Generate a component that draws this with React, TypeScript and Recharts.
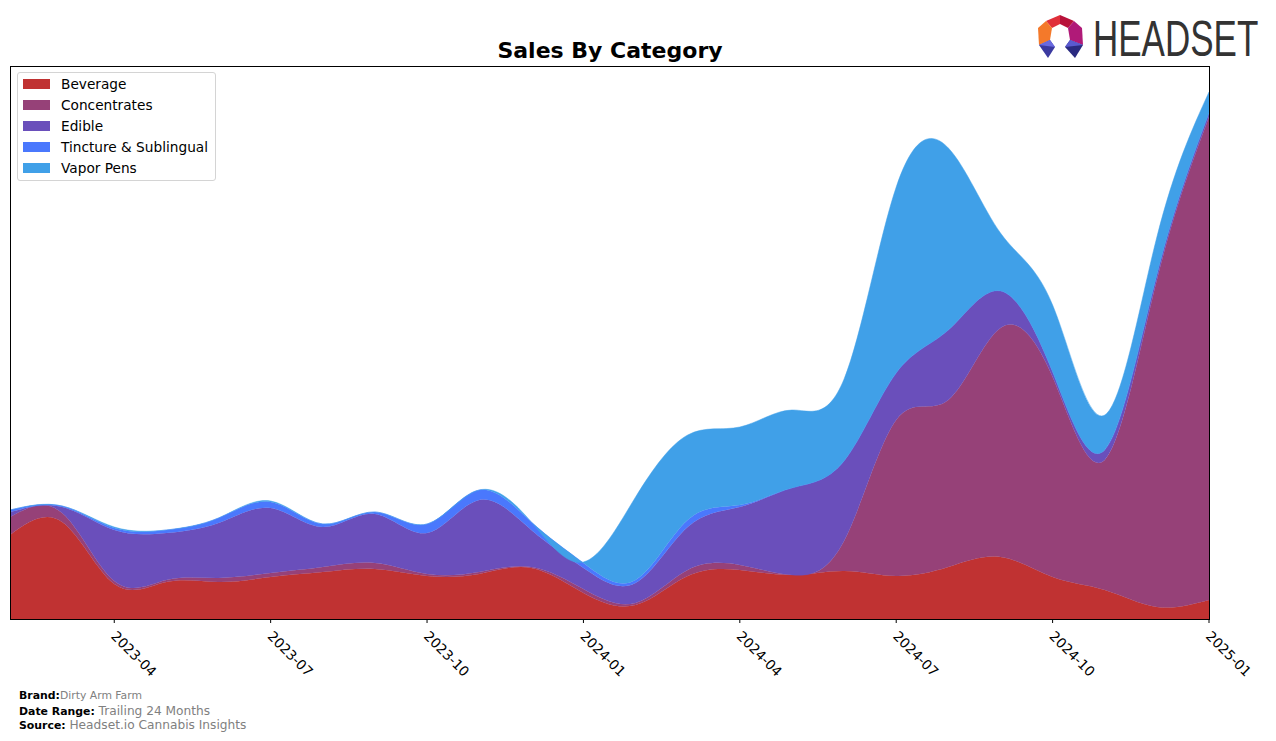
import React from 'react';
import { AreaChart, Area, XAxis, YAxis } from 'recharts';

// monthly sales, in plot-pixel units (no y axis shown in the reference)
const months = [
  '2023-02', '2023-03', '2023-04', '2023-05', '2023-06', '2023-07', '2023-08', '2023-09',
  '2023-10', '2023-11', '2023-12', '2024-01', '2024-02', '2024-03', '2024-04', '2024-05',
  '2024-06', '2024-07', '2024-08', '2024-09', '2024-10', '2024-11', '2024-12', '2025-01',
];
const tickMonths = ['2023-04', '2023-07', '2023-10', '2024-01', '2024-04', '2024-07', '2024-10', '2025-01'];

const beverage = [84, 97, 35, 37, 37, 42, 47, 50, 43, 45, 51, 26, 14, 43, 49, 44, 48, 43, 52, 62, 42, 29, 12, 19];
const concentrates = [18, 9, 3, 2, 4, 4, 5, 6, 2, 2, 1, 4, 2, 6, 5, 0, 30, 156, 167, 229, 200, 130, 327, 483];
const edible = [5, 6, 51, 47, 55, 65, 40, 49, 41, 72, 37, 21, 20, 43, 58, 87, 80, 47, 70, 37, 5, 10, 5, 4];
const tincture = [2, 1, 2, 3, 5, 6, 3, 2, 9, 10, 8, 5, 3, 7, 2, 0, 0, 0, 0, 0, 0, 0, 0, 0];
const vaporPens = [0, 0, 1, 0, 0, 1, 0, 0, 0, 0, 0, 1, 83, 85, 78, 78, 82, 186, 182, 58, 67, 35, 38, 21];

const seriesNames = ['Beverage', 'Concentrates', 'Edible', 'Tincture & Sublingual', 'Vapor Pens'];
const seriesColors = ['#c03232', '#964178', '#6a4fbb', '#4a78fd', '#40a0e8'];
const seriesValues = [beverage, concentrates, edible, tincture, vaporPens];

const data = months.map((m, i) => {
  const row: any = { month: m };
  seriesNames.forEach((name, s) => { row[name] = seriesValues[s][i]; });
  return row;
});

const FONT = '"DejaVu Sans", Verdana, sans-serif';

const DateTick = ({ x, y, payload }: any) => {
  const tx = x - 4;
  const ty = y + 18;
  return (
    <g>
      <line x1={x} x2={x} y1={y} y2={y + 4} stroke="#000" strokeWidth={1} />
      <text x={tx} y={ty} transform={`rotate(45, ${tx}, ${ty})`} fontSize={13.7} fontFamily={FONT} fill="#000" textAnchor="start">
        {payload.value}
      </text>
    </g>
  );
};

const Logo = () => (
  <svg width={256} height={80} style={{ position: 'absolute', left: 1020, top: 0 }} viewBox="1020 0 256 80">
    <polygon points="1046,21 1060,15 1060,24 1052,28" fill="#e0303a" />
    <polygon points="1060,15 1074,21 1068,28 1060,24" fill="#b8123a" />
    <polygon points="1038,28 1046,21 1052,28 1050,40 1039,45" fill="#f4792a" />
    <polygon points="1074,21 1082,28 1083,45 1070,40 1068,28" fill="#b01a78" />
    <polygon points="1039,45 1050,40 1055,47 1048,58" fill="#3b3aa0" />
    <polygon points="1039,45 1050,40 1055,47" fill="#6a6ae0" />
    <polygon points="1083,45 1070,40 1065,47 1075,58" fill="#2a2a80" />
    <polygon points="1083,45 1070,40 1065,47" fill="#5a5ad0" />
    <g transform="translate(1093,56) scale(1,1.45)">
      <text x={0} y={0} fontSize={35} fontFamily='"Liberation Sans", Arial, sans-serif' fill="#333">HEADSET</text>
    </g>
  </svg>
);

const LegendBox = () => (
  <div style={{
    position: 'absolute', left: 17, top: 72, width: 199, height: 109, boxSizing: 'border-box',
    border: '1px solid #d4d4d4', borderRadius: 3, background: 'rgba(255,255,255,0.85)',
  }}>
    {seriesNames.map((name, i) => (
      <div key={name} style={{ position: 'absolute', left: 0, top: 4 + i * 21, height: 14, display: 'flex', alignItems: 'center' }}>
        <div style={{ width: 27, height: 10, marginLeft: 5, background: seriesColors[i] }} />
        <span style={{ marginLeft: 11, fontFamily: FONT, fontSize: 13.7, color: '#000', whiteSpace: 'nowrap' }}>{name}</span>
      </div>
    ))}
  </div>
);

const footLabel: React.CSSProperties = { fontFamily: FONT, fontWeight: 'bold', fontSize: 10.9, color: '#000' };
const footValue: React.CSSProperties = { fontFamily: FONT, color: '#808080' };
const footRow: React.CSSProperties = { position: 'absolute', left: 19, height: 14, lineHeight: '14px', whiteSpace: 'nowrap' };

export default function App() {
  return (
    <div style={{ position: 'absolute', left: 0, top: 0, width: 1276, height: 741, background: '#fff', overflow: 'hidden' }}>
      <AreaChart width={1276} height={741} data={data} margin={{ top: 66, right: 67, left: 10, bottom: 92 }}>
        <XAxis dataKey="month" ticks={tickMonths} tick={<DateTick />} tickLine={false} axisLine={false}
          tickSize={0} tickMargin={0} height={30} interval={0} />
        <YAxis hide domain={[0, 553]} allowDataOverflow />
        {seriesNames.map((name, i) => (
          <Area key={name} type="natural" dataKey={name} stackId="1" stroke={seriesColors[i]} strokeWidth={0.5}
            fill={seriesColors[i]} fillOpacity={1} isAnimationActive={false} />
        ))}
      </AreaChart>

      <div style={{ position: 'absolute', left: 10, top: 66, width: 1200, height: 554, boxSizing: 'border-box', border: '1px solid #000', pointerEvents: 'none' }} />

      <div style={{ position: 'absolute', left: 310, width: 600, top: 38, textAlign: 'center', fontFamily: FONT, fontWeight: 'bold', fontSize: 22, color: '#000' }}>
        Sales By Category
      </div>

      <LegendBox />
      <Logo />

      <div style={{ ...footRow, top: 687 }}><span style={footLabel}>Brand:</span><span style={{ ...footValue, fontSize: 10.8 }}>Dirty Arm Farm</span></div>
      <div style={{ ...footRow, top: 703 }}><span style={footLabel}>Date Range: </span><span style={{ ...footValue, fontSize: 12.2 }}>Trailing 24 Months</span></div>
      <div style={{ ...footRow, top: 717 }}><span style={footLabel}>Source: </span><span style={{ ...footValue, fontSize: 12.2 }}>Headset.io Cannabis Insights</span></div>
    </div>
  );
}
